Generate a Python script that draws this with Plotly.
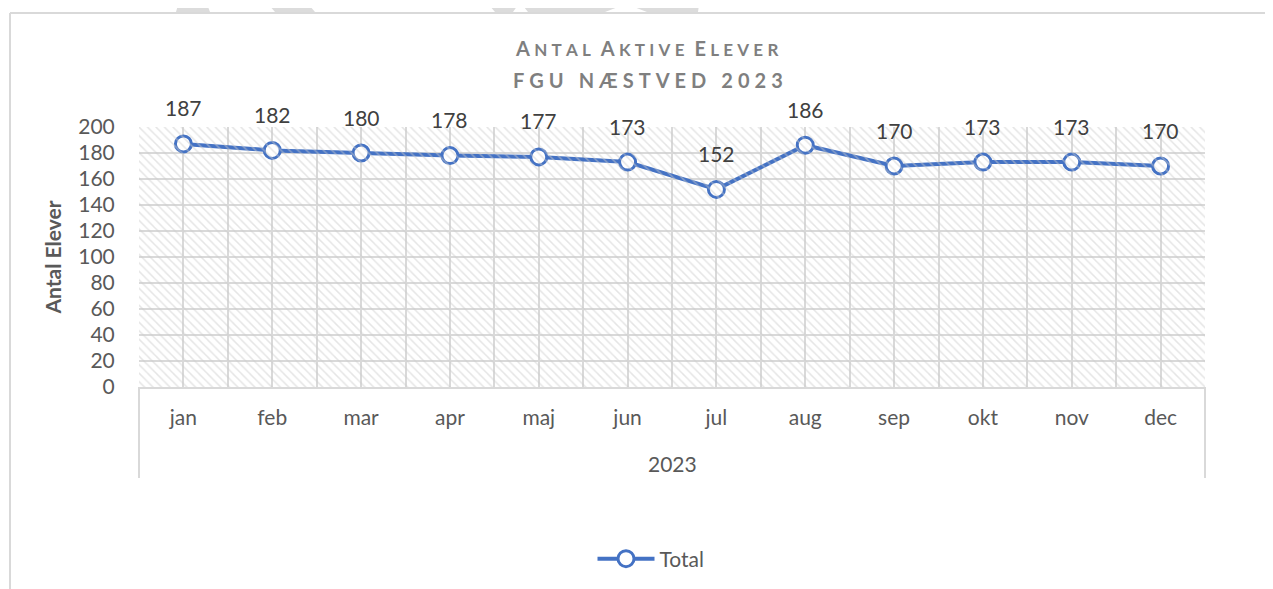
import plotly.graph_objects as go

# data
months = ['jan', 'feb', 'mar', 'apr', 'maj', 'jun', 'jul', 'aug', 'sep', 'okt', 'nov', 'dec']
year = '2023'
total = [187, 182, 180, 178, 177, 173, 152, 186, 170, 173, 173, 170]
y_max = 200

# page offset (body margin) so that coordinates below are screen pixels
OFF = 8
W, H = 1273 - OFF, 589 - OFF
L, R, T, B = 139 - OFF, 68, 127 - OFF, 202
pw, ph = W - L - R, H - T - B


def px(x):
    return (x - OFF - L) / pw


def py(y):
    return (H - B - (y - OFF)) / ph


def spaced(s, gap='\u2005'):
    return gap.join(s)


def smallcaps(word, big=20, small=17):
    return ("<span style='font-size:%dpx'>%s</span><span style='font-size:%dpx'>%s</span>"
            % (big, word[0], small, '\u2005' + spaced(word[1:].upper())))


font = 'Lato, Calibri, sans-serif'
grey = '#595959'
grid = '#d9d9d9'
blue = '#4472C4'

fig = go.Figure()

# hatched plot background
fig.add_trace(go.Scatter(
    x=[-0.5, len(months) - 0.5], y=[y_max, y_max], xaxis='x2', mode='lines',
    line=dict(width=0), fill='tozeroy', fillcolor='rgba(0,0,0,0)',
    fillpattern=dict(shape='\\', fgcolor='#cccccc', bgcolor='rgba(0,0,0,0)', size=6, solidity=0.25),
    hoverinfo='skip', showlegend=False))

fig.add_trace(go.Scatter(
    x=months, y=total, name='Total', mode='lines+markers',
    line=dict(color=blue, width=4),
    marker=dict(symbol='circle', size=16, color='white', line=dict(color=blue, width=3))))

# data labels
for i, v in enumerate(total):
    fig.add_annotation(x=i, y=v, xref='x2', yref='y', text=str(v), showarrow=False,
                       yshift=36, font=dict(family=font, size=21, color='#404040'))

# group label under the months
fig.add_annotation(x=0.5, y=py(463), xref='paper', yref='paper', yanchor='middle', text=year,
                   showarrow=False, font=dict(family=font, size=21, color=grey))

# titles
title1 = '\u2002'.join(smallcaps(w) for w in ['Antal', 'Aktive', 'Elever'])
fig.add_annotation(x=px(646), y=py(48), xref='paper', yref='paper', yanchor='middle',
                   text='<b>' + title1 + '</b>',
                   showarrow=False, font=dict(family=font, size=20, color='#7f7f7f'))
fig.add_annotation(x=px(648), y=py(80), xref='paper', yref='paper', yanchor='middle',
                   text='<b>' + '\u2002\u2005'.join(spaced(w) for w in ['FGU', 'NÆSTVED', '2023']) + '</b>',
                   showarrow=False, font=dict(family=font, size=20, color='#7f7f7f'))

# chart frame, group dividers and watermark fragments
shapes = [
    dict(type='line', xref='paper', yref='paper', x0=px(10), x1=px(10), y0=py(13), y1=py(H + 30),
         line=dict(color=grid, width=2)),
    dict(type='line', xref='paper', yref='paper', x0=px(10), x1=px(W + 30), y0=py(13), y1=py(13),
         line=dict(color=grid, width=2)),
    dict(type='line', xref='paper', yref='paper', x0=0, x1=0, y0=0, y1=py(478),
         line=dict(color=grid, width=2)),
    dict(type='line', xref='paper', yref='paper', x0=1, x1=1, y0=0, y1=py(478),
         line=dict(color=grid, width=2)),
]


def poly(points):
    return 'M ' + ' L '.join('%f,%f' % (px(a), py(b)) for a, b in points) + ' Z'


marks = [
    [(176, 12), (178, 5), (186, -2), (200, -2), (207, 4), (210, 12)],
    [(263, -2), (303, -2), (315, 12), (275, 12)],
    [(483, -2), (700, -2), (698, 12), (647, 12), (626, 4), (605, 12), (528, 12), (520, 2), (513, 12), (495, 12)],
    [(743, -2), (773, -2), (767, 6), (758, 8), (750, 6)],
]
for m in marks:
    shapes.append(dict(type='path', xref='paper', yref='paper', path=poly(m),
                       fillcolor='#dcdcdc', line=dict(width=0), layer='below'))

fig.update_layout(
    width=W, height=H, margin=dict(l=L, r=R, t=T, b=B, autoexpand=False),
    paper_bgcolor='white', plot_bgcolor='white',
    font=dict(family=font, size=21, color=grey),
    shapes=shapes,
    showlegend=True,
    legend=dict(orientation='h', x=px(651), y=py(559), xanchor='center', yanchor='middle',
                font=dict(family=font, size=21, color=grey), itemwidth=57, bgcolor='rgba(0,0,0,0)'),
    xaxis=dict(type='category', range=[-0.5, len(months) - 0.5], showgrid=False, showline=True,
               linecolor=grid, linewidth=2, ticks='outside', ticklen=11, tickcolor='rgba(0,0,0,0)',
               tickfont=dict(family=font, size=21, color=grey), zeroline=False),
    xaxis2=dict(overlaying='x', range=[-0.5, len(months) - 0.5], dtick=0.5, tick0=-0.5,
                showgrid=True, gridcolor=grid, gridwidth=1.5, showticklabels=False, zeroline=False,
                side='bottom'),
    yaxis=dict(range=[0, y_max], dtick=20, showgrid=True, gridcolor=grid, gridwidth=1.5,
               zeroline=False, showline=False, ticks='outside', ticklen=19, tickcolor='rgba(0,0,0,0)',
               tickfont=dict(family=font, size=21, color=grey),
               title=dict(text='<b>Antal Elever</b>', font=dict(family=font, size=21, color=grey),
                          standoff=10)),
)

fig.write_html('out.html')
